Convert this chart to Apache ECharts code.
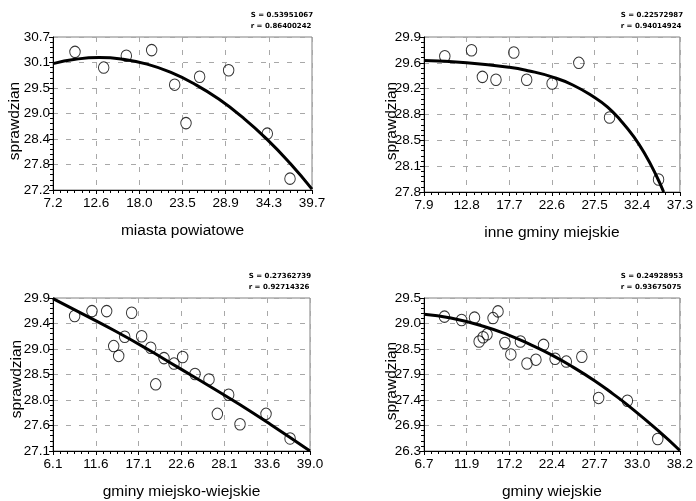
<!DOCTYPE html>
<html><head><meta charset="utf-8">
<script src="https://cdn.jsdelivr.net/npm/echarts@6/dist/echarts.min.js"></script>
<style>html,body{margin:0;padding:0;background:#fff}#c{width:696px;height:501px}</style>
</head><body><div id="c"></div>
<script>
// ---- data ----
const titles = ['miasta powiatowe','inne gminy miejskie','gminy miejsko-wiejskie','gminy wiejskie'];
const yName = 'sprawdzian';
const statS = ['S = 0.53951067','S = 0.22572987','S = 0.27362739','S = 0.24928953'];
const statR = ['r = 0.86400242','r = 0.94014924','r = 0.92714326','r = 0.93675075'];

const xTicks1 = ['7.2','12.6','18.0','23.5','28.9','34.3','39.7'];
const yTicks1 = ['27.2','27.8','28.4','29.0','29.5','30.1','30.7'];
const xTicks2 = ['7.9','12.8','17.7','22.6','27.5','32.4','37.3'];
const yTicks2 = ['27.8','28.1','28.5','28.8','29.2','29.6','29.9'];
const xTicks3 = ['6.1','11.6','17.1','22.6','28.1','33.6','39.0'];
const yTicks3 = ['27.1','27.6','28.0','28.5','29.0','29.4','29.9'];
const xTicks4 = ['6.7','11.9','17.2','22.4','27.7','33.0','38.2'];
const yTicks4 = ['26.3','26.9','27.4','27.9','28.5','29.0','29.5'];

const xRange = [[7.2,39.7],[7.9,37.3],[6.1,39.0],[6.7,38.2]];
const yRange = [[27.2,30.7],[27.8,29.9],[27.1,29.9],[26.3,29.5]];

const pts1x = [9.96,13.56,16.4,19.58,22.47,23.89,25.6,29.24,34.09,36.94];
const pts1y = [30.36,30.0,30.27,30.40,29.61,28.73,29.79,29.94,28.49,27.46];
const fit1x = [7.2,10,13,16,19,22,25,28,31,34,37,39.7];
const fit1y = [30.09,30.19,30.23,30.19,30.08,29.89,29.62,29.28,28.86,28.37,27.80,27.22];

const pts2x = [10.29,13.36,14.61,16.17,18.22,19.70,22.62,25.69,29.22,34.85];
const pts2y = [29.64,29.72,29.36,29.32,29.69,29.32,29.27,29.55,28.81,27.97];
const fit2x = [7.9,12.8,17.7,20.0,22.6,25.0,27.5,29.0,30.5,32.0,33.3,34.6,35.44];
const fit2y = [29.58,29.55,29.49,29.44,29.36,29.25,29.08,28.95,28.77,28.55,28.31,28.02,27.80];

const pts3x = [8.87,11.09,12.97,13.87,14.51,15.28,16.17,17.45,18.61,19.25,20.31,21.59,22.70,24.28,26.07,27.14,28.59,30.04,33.37,36.45];
const pts3y = [29.57,29.66,29.66,29.02,28.84,29.19,29.63,29.20,28.99,28.32,28.80,28.70,28.82,28.51,28.41,27.78,28.13,27.59,27.78,27.33];
const fit3x = [6.1,10,14,18,22,26,30,34,39.0];
const fit3y = [29.89,29.60,29.30,28.98,28.64,28.30,27.95,27.58,27.10];

const pts4x = [9.22,11.33,12.92,13.49,13.98,14.46,15.20,15.81,16.66,17.39,18.57,19.38,20.48,21.42,22.84,24.22,26.13,28.20,31.74,35.48];
const pts4y = [29.11,29.04,29.09,28.59,28.68,28.74,29.08,29.22,28.56,28.32,28.59,28.13,28.21,28.52,28.23,28.17,28.27,27.41,27.35,26.55];
const fit4x = [6.7,10,14,17.2,20,22.4,25,27.7,30,31.7,35.5,38.2];
const fit4y = [29.16,29.08,28.91,28.72,28.51,28.31,28.06,27.77,27.49,27.27,26.73,26.31];

// ---- build ----
const xTicks = [xTicks1,xTicks2,xTicks3,xTicks4];
const yTicks = [yTicks1,yTicks2,yTicks3,yTicks4];
const ptsX = [pts1x,pts2x,pts3x,pts4x], ptsY = [pts1y,pts2y,pts3y,pts4y];
const fitX = [fit1x,fit2x,fit3x,fit4x], fitY = [fit1y,fit2y,fit3y,fit4y];

const grids = [
  {left:53, top:37, width:259, height:153},
  {left:424, top:37, width:258, height:155},
  {left:53, top:298, width:257, height:155},
  {left:424, top:298, width:258, height:155}
];
const yNamePos = [[15,121],[392,121],[17,379],[392,381]];
const FONT = '"Liberation Sans", Arial, sans-serif';
const zip = (a,b)=>a.map((v,i)=>[v,b[i]]);

const option = {
  animation:false,
  backgroundColor:'#fff',
  grid: grids.map(g=>Object.assign({show:true, borderColor:'#808080', borderWidth:1, backgroundColor:'transparent'}, g)),
  xAxis: grids.map((g,i)=>{
    const [mn,mx]=xRange[i]; const iv=(mx-mn)/6;
    return {type:'value', gridIndex:i, min:mn, max:mx, interval:iv,
      name:titles[i], nameLocation:'middle', nameGap:33,
      nameTextStyle:{fontFamily:FONT, fontSize:15.5, color:'#000'},
      axisLine:{onZero:false, lineStyle:{color:'#000', width:1}},
      axisTick:{show:true, length:4, lineStyle:{color:'#000'}},
      minorTick:{show:true, splitNumber:6, length:3, lineStyle:{color:'#000'}},
      axisLabel:{fontFamily:FONT, fontSize:13.5, color:'#000', margin:6,
        formatter:(v)=>xTicks[i][Math.round((v-mn)/iv)]},
      splitLine:{show:true, lineStyle:{color:'#a8a8a8', type:[5,8], width:1}}
    };
  }),
  yAxis: grids.map((g,i)=>{
    const [mn,mx]=yRange[i]; const iv=(mx-mn)/6;
    return {type:'value', gridIndex:i, min:mn, max:mx, interval:iv,
      axisLine:{onZero:false, lineStyle:{color:'#000', width:1}},
      axisTick:{show:true, length:4, lineStyle:{color:'#000'}},
      minorTick:{show:true, splitNumber:5, length:3, lineStyle:{color:'#000'}},
      axisLabel:{fontFamily:FONT, fontSize:13.5, color:'#000', margin:3,
        formatter:(v)=>yTicks[i][Math.round((v-mn)/iv)]},
      splitLine:{show:true, lineStyle:{color:'#a8a8a8', type:[5,8], width:1}}
    };
  }),
  series: [].concat(
    grids.map((g,i)=>({type:'scatter', xAxisIndex:i, yAxisIndex:i, data:zip(ptsX[i],ptsY[i]),
      symbol:'circle', symbolSize:[10.5,11.5],
      itemStyle:{color:'rgba(0,0,0,0)', borderColor:'#000', borderWidth:1}, z:3})),
    grids.map((g,i)=>({type:'line', xAxisIndex:i, yAxisIndex:i, data:zip(fitX[i],fitY[i]),
      smooth:true, showSymbol:false, symbol:'none', clip:true,
      lineStyle:{color:'#000', width:3}, z:4}))
  ),
  graphic: [].concat(
    grids.map((g,i)=>({type:'text', right:696-(g.left+g.width)-1, top:g.top-27,
      style:{text:statS[i]+'\n'+statR[i], fontFamily:'"DejaVu Sans", sans-serif', fontWeight:'bold',
        fontSize:7, lineHeight:11, fill:'#000', align:'right'}})),
    yNamePos.map(p=>({type:'text', x:p[0], y:p[1], rotation:Math.PI/2,
      style:{text:yName, fontFamily:FONT, fontSize:15.5, fill:'#000', align:'center', verticalAlign:'middle'}}))
  )
};
const chart = echarts.init(document.getElementById('c'), null, {renderer:'canvas'});
chart.setOption(option);
</script></body></html>
